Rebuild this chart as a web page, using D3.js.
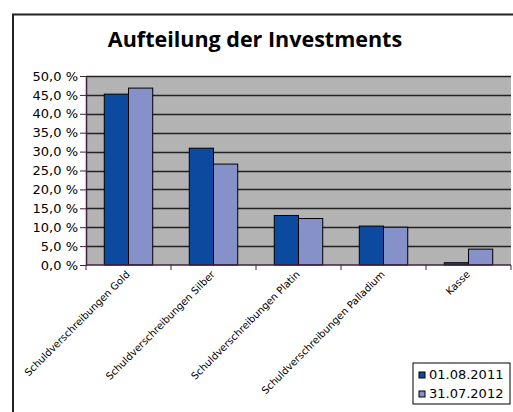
<!DOCTYPE html>
<html>
<head>
<meta charset="utf-8">
<script src="https://cdn.jsdelivr.net/npm/d3@7"></script>
<style>
  body { margin: 0; background: #fff; }
  svg { display: block; }
</style>
</head>
<body>
<div id="chart"></div>
<script>
const categories = [
    "Schuldverschreibungen Gold",
    "Schuldverschreibungen Silber",
    "Schuldverschreibungen Platin",
    "Schuldverschreibungen Palladium",
    "Kasse"
];
const seriesNames = ["01.08.2011", "31.07.2012"];
const values2011 = [45.2, 30.9, 13.1, 10.3, 0.6];
const values2012 = [46.8, 26.7, 12.3, 10.0, 4.2];
const yTicks = [0, 5, 10, 15, 20, 25, 30, 35, 40, 45, 50];

const COLORS = ["#0c4a9f", "#8591c8"];
const W = 513, H = 412;
const margin = { top: 76, right: 2, bottom: 147, left: 86 };
const width = W - margin.left - margin.right;
const height = H - margin.top - margin.bottom;

const svg = d3.select("#chart").append("svg")
    .attr("width", W)
    .attr("height", H);

// outer frame
svg.append("rect")
    .attr("x", 13).attr("y", 14.5)
    .attr("width", W).attr("height", H)
    .attr("fill", "none")
    .attr("stroke", "#222")
    .attr("stroke-width", 2);

svg.append("text")
    .attr("x", 255)
    .attr("y", 47)
    .attr("text-anchor", "middle")
    .style("font-family", "'Open Sans', sans-serif")
    .style("font-weight", "bold")
    .style("font-size", "21.5px")
    .text("Aufteilung der Investments");

const g = svg.append("g")
    .attr("transform", `translate(${margin.left}, ${margin.top})`);

const x0 = d3.scaleBand()
    .domain(categories)
    .range([0, width])
    .paddingInner(0.43)
    .paddingOuter(0.215);

const x1 = d3.scaleBand()
    .domain(seriesNames)
    .range([0, x0.bandwidth()]);

const y = d3.scaleLinear()
    .domain([0, 50])
    .range([height, 0]);

g.append("rect")
    .attr("width", width)
    .attr("height", height)
    .attr("fill", "#b3b3b3");

g.selectAll(".grid")
    .data(yTicks.slice(1))
    .enter().append("line")
    .attr("x1", 0).attr("x2", width)
    .attr("y1", d => Math.round(y(d)) + 0.5)
    .attr("y2", d => Math.round(y(d)) + 0.5)
    .attr("stroke", "#222")
    .attr("stroke-width", 1.3);

const rows = categories.map((c, i) => ({ c, vals: [values2011[i], values2012[i]] }));

g.selectAll(".grp")
    .data(rows)
    .enter().append("g")
    .attr("transform", d => `translate(${x0(d.c)},0)`)
    .selectAll("rect")
    .data(d => d.vals.map((v, k) => ({ v, s: seriesNames[k], k })))
    .enter().append("rect")
    .attr("x", d => x1(d.s))
    .attr("y", d => y(d.v))
    .attr("width", x1.bandwidth())
    .attr("height", d => height - y(d.v))
    .attr("fill", d => COLORS[d.k])
    .attr("stroke", "#000")
    .attr("stroke-width", 1);

// y axis
const yAxis = g.append("g")
    .call(d3.axisLeft(y).tickValues(yTicks).tickSize(6).tickSizeOuter(0)
        .tickFormat(d => d3.format(".1f")(d).replace(".", ",") + " %"));
yAxis.select(".domain").attr("stroke", "#402040").attr("stroke-width", 1.5);
yAxis.selectAll(".tick line").attr("stroke", "#402040");
yAxis.selectAll("text")
    .attr("x", -8)
    .style("font-family", "'DejaVu Sans', sans-serif")
    .style("font-size", "13px")
    .attr("fill", "#000");

// x axis with ticks at band boundaries
const xAxis = g.append("g")
    .attr("transform", `translate(0, ${height})`);
xAxis.append("line")
    .attr("x1", 0).attr("x2", width)
    .attr("stroke", "#402040").attr("stroke-width", 1.5);
const step = width / categories.length;
xAxis.selectAll(".xt")
    .data(d3.range(categories.length + 1))
    .enter().append("line")
    .attr("x1", d => d * step).attr("x2", d => d * step)
    .attr("y1", 0).attr("y2", 5)
    .attr("stroke", "#402040");

xAxis.selectAll(".xl")
    .data(categories)
    .enter().append("text")
    .attr("transform", d => `translate(${x0(d) + x0.bandwidth() / 2 + 2}, 10) rotate(-45)`)
    .attr("text-anchor", "end")
    .style("font-family", "'DejaVu Sans', sans-serif")
    .style("font-size", "10px")
    .text(d => d);

// legend
const legend = svg.append("g").attr("transform", "translate(413, 363)");
legend.append("rect")
    .attr("width", 97).attr("height", 41)
    .attr("fill", "#fff")
    .attr("stroke", "#000");
seriesNames.forEach((s, i) => {
    legend.append("rect")
        .attr("x", 6).attr("y", 9 + i * 19)
        .attr("width", 6).attr("height", 6)
        .attr("fill", COLORS[i])
        .attr("stroke", "#000");
    legend.append("text")
        .attr("x", 16).attr("y", 16 + i * 19)
        .style("font-family", "'DejaVu Sans', sans-serif")
        .style("font-size", "13px")
        .text(s);
});
</script>
</body>
</html>
